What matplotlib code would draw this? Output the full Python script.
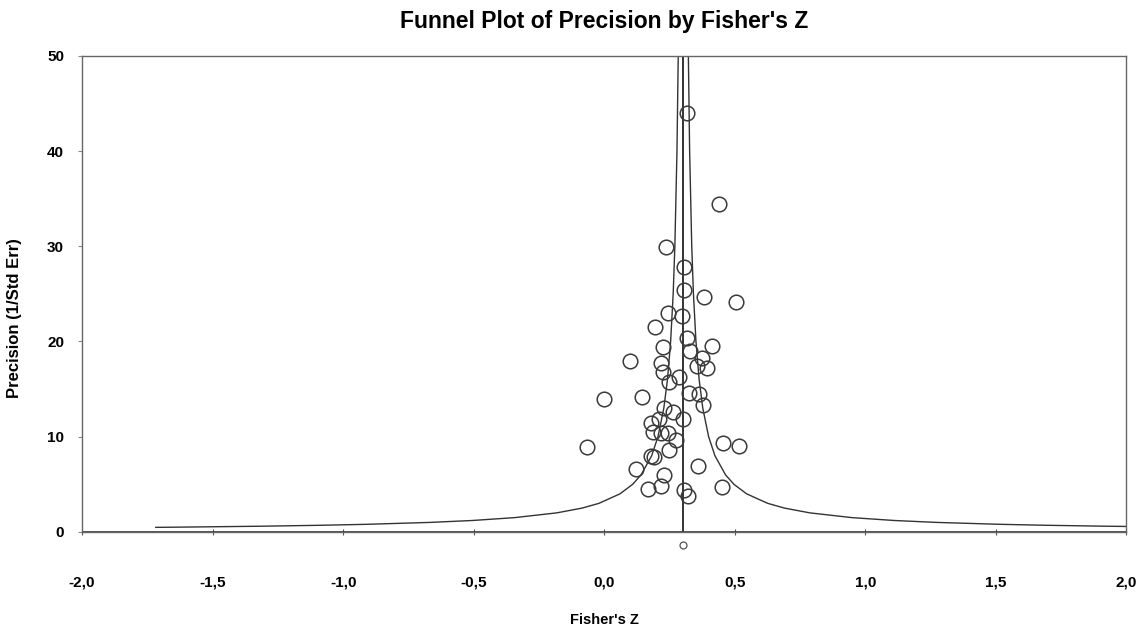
import numpy as np
import matplotlib
matplotlib.use("Agg")
import matplotlib.pyplot as plt

# study data: Fisher's Z and precision (1/SE)
fisher_z = [0.318, 0.441, 0.238, 0.307, 0.307, 0.383, 0.506, 0.244, 0.297, 0.195,
            0.318, 0.413, 0.226, 0.330, 0.375, 0.100, 0.218, 0.395, 0.356, 0.226,
            0.287, 0.249, 0.145, 0.000, 0.326, 0.364, 0.379, 0.230, 0.264, 0.303,
            0.180, 0.211, 0.188, 0.218, 0.244, 0.276, 0.456, 0.517, -0.065, 0.249,
            0.180, 0.191, 0.360, 0.123, 0.230, 0.218, 0.169, 0.453, 0.305, 0.321]
precision = [44.0, 34.4, 29.9, 27.8, 25.4, 24.7, 24.1, 23.0, 22.7, 21.5,
             20.4, 19.5, 19.4, 19.0, 18.3, 18.0, 17.7, 17.2, 17.4, 16.8,
             16.3, 15.7, 14.2, 14.0, 14.6, 14.5, 13.3, 13.0, 12.6, 11.9,
             11.4, 11.9, 10.5, 10.4, 10.4, 9.7, 9.3, 9.0, 8.9, 8.6,
             8.0, 7.9, 6.9, 6.6, 6.0, 4.8, 4.5, 4.7, 4.4, 3.8]

mean_z = 0.303          # combined effect
summary_y = -1.36       # little summary circle under the axis
ci_k = 0.97             # half width of funnel = ci_k / precision
funnel_prec = [0.48, 0.5, 0.6, 0.7, 0.8, 1.0, 1.2, 1.5, 2.0, 2.5, 3.0, 4.0, 5.0, 6.0,
               8.0, 10.0, 13.0, 16.0, 20.0, 25.0, 30.0, 40.0, 50.0]

xticks = [-2.0, -1.5, -1.0, -0.5, 0.0, 0.5, 1.0, 1.5, 2.0]
xlabels = ['-2,0', '-1,5', '-1,0', '-0,5', '0,0', '0,5', '1,0', '1,5', '2,0']
yticks = [0, 10, 20, 30, 40, 50]

plt.rcParams['font.family'] = ['Liberation Sans', 'DejaVu Sans']
fig = plt.figure(figsize=(11.4, 6.34), dpi=100)
ax = fig.add_axes([0.072, 0.161, 0.916, 0.751])

lc = '#333333'
fp = np.array(funnel_prec)
ax.plot(mean_z - ci_k / fp, fp, color=lc, lw=1.0)
ax.plot(mean_z + ci_k / fp, fp, color=lc, lw=1.0)
ax.plot([mean_z, mean_z], [0, 50], color=lc, lw=1.4)

ax.plot(fisher_z, precision, linestyle='none', marker='o', markersize=10.5,
        mfc='none', mec='#3a3a3a', mew=1.1)
ax.plot([mean_z], [summary_y], linestyle='none', marker='o', markersize=5,
        mfc='none', mec='#555555', mew=0.9, clip_on=False)

ax.axhline(0, color=lc, lw=1.2)

ax.set_xlim(-2.0, 2.0)
ax.set_ylim(0, 50)
ax.set_xticks(xticks)
ax.set_xticklabels(xlabels)
ax.set_yticks(yticks)
ax.set_yticklabels([str(v) for v in yticks])
ax.tick_params(axis='x', direction='inout', length=5, pad=29, labelsize=11, color='#555555')
ax.tick_params(axis='y', direction='out', length=3, pad=10, labelsize=11, color='#888888')
for lab in ax.get_xticklabels() + ax.get_yticklabels():
    lab.set_fontweight('bold')
for s in ax.spines.values():
    s.set_color('#666666')
    s.set_linewidth(1.0)

ax.set_title("Funnel Plot of Precision by Fisher's Z", fontsize=16.5, fontweight='bold', pad=20)
ax.set_xlabel("Fisher's Z", fontsize=10.5, fontweight='bold')
ax.xaxis.set_label_coords(0.5, -0.17)
ax.set_ylabel("Precision (1/Std Err)", fontsize=12, fontweight='bold')
ax.yaxis.set_label_coords(-0.058, 0.45)

fig.savefig('out.png', dpi=100, facecolor='white')
